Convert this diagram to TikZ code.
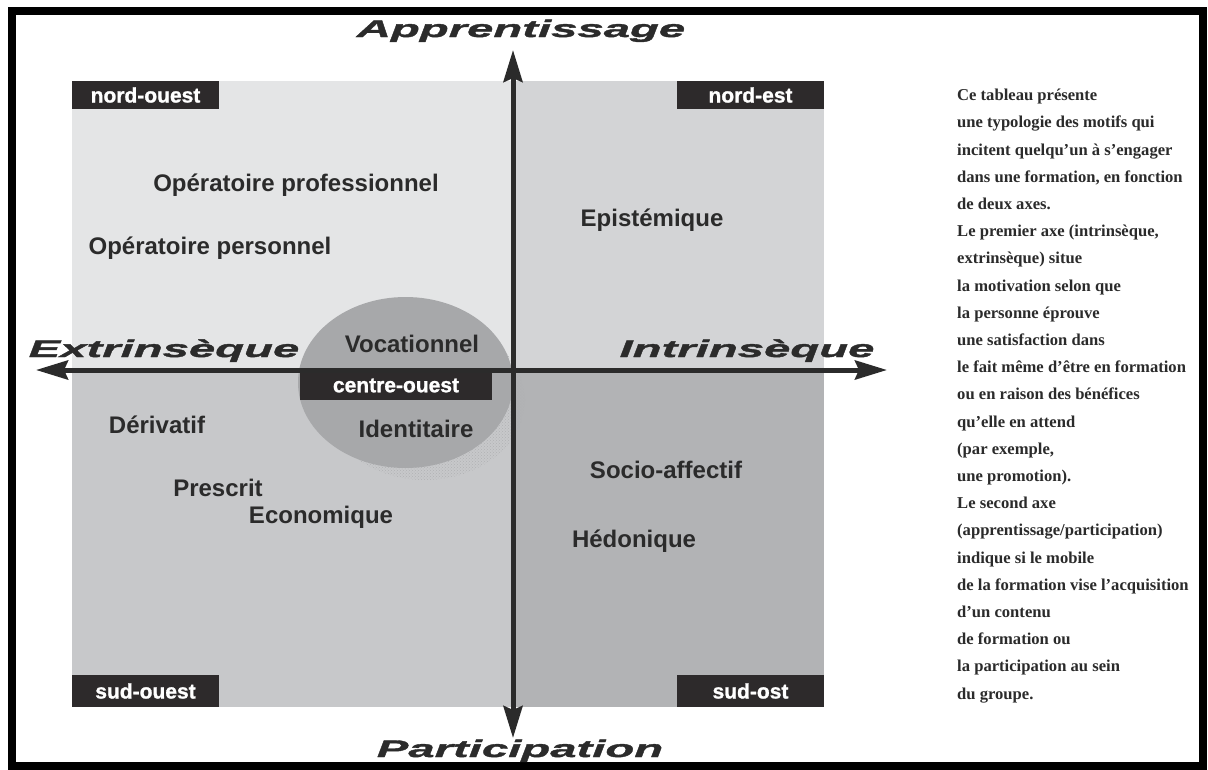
\documentclass[tikz,border=0pt]{standalone}
\usepackage{fontspec}
\setmainfont{Liberation Serif}
\newfontfamily\labelfont{Liberation Sans}
\newfontfamily\tagfont{Liberation Sans}[BoldFeatures={FakeBold=1.2}]
\newfontfamily\axisfont{Liberation Sans}[FakeStretch=1.97, BoldItalicFeatures={FakeBold=1.6}]
\usetikzlibrary{arrows.meta,shapes.geometric,patterns}

\definecolor{ink}{HTML}{2B2B2B}
\definecolor{boxdark}{HTML}{2D2A2B}
\definecolor{panelNW}{HTML}{E4E5E6}
\definecolor{panelNE}{HTML}{D3D4D6}
\definecolor{panelSW}{HTML}{C7C8CA}
\definecolor{panelSE}{HTML}{B2B3B5}
\definecolor{coregray}{HTML}{A7A8AA}
\definecolor{speckle}{HTML}{B0B1B3}

\begin{document}
\begin{tikzpicture}[x=1pt,y=-1pt,
  panel/.style={inner sep=0, outer sep=0, anchor=north west},
  cornerbox/.style={fill=boxdark, text=white, inner sep=0, outer sep=0,
    minimum width=147pt, minimum height=28pt, anchor=north west,
    font={\tagfont\bfseries\fontsize{21}{24}\selectfont}},
  motif/.style={text=ink, inner sep=0, anchor=base,
    font={\labelfont\bfseries\fontsize{24}{28}\selectfont}},
  axislabel/.style={text=ink, inner sep=0, anchor=base,
    font={\axisfont\bfseries\itshape\fontsize{24}{28}\selectfont}},
  axisline/.style={line width=5pt, draw=ink,
    {Stealth[length=32pt,width=19pt,inset=4pt]}-{Stealth[length=32pt,width=19pt,inset=4pt]}},
  note/.style={text=ink, inner sep=0, align=left, anchor=north west,
    font={\bfseries\fontsize{16.6}{27.2}\selectfont}}]

% canvas and frame
\useasboundingbox (0,0) rectangle (1208,769);
\fill[white] (0,0) rectangle (1208,769);
\draw[line width=8pt, black] (11.5,11) rectangle (1202.5,766);

% four quadrants
\node[panel, fill=panelNW, minimum width=441pt, minimum height=290pt] (nw) at (72,81) {};
\node[panel, fill=panelNE, minimum width=311pt, minimum height=290pt] (ne) at (513,81) {};
\node[panel, fill=panelSW, minimum width=441pt, minimum height=336pt] (sw) at (72,371) {};
\node[panel, fill=panelSE, minimum width=311pt, minimum height=336pt] (se) at (513,371) {};

% central-west zone with its halftone shadow
\node[ellipse, pattern=crosshatch dots, pattern color=speckle, inner sep=0,
  minimum width=200pt, minimum height=160pt] (shadow) at (425,400) {};
\node[ellipse, fill=coregray, inner sep=0, minimum width=215pt, minimum height=171pt] (core) at (405.5,382.5) {};
\node[cornerbox, minimum width=192pt, minimum height=29pt] (co) at (300,371) {centre-ouest};

% corner tags
\node[cornerbox] (tagnw) at (72,81) {nord-ouest};
\node[cornerbox] (tagne) at (677,81) {nord-est};
\node[cornerbox, minimum height=32pt] (tagsw) at (72,675) {sud-ouest};
\node[cornerbox, minimum height=32pt] (tagse) at (677,675) {sud-ost};

% axes
\coordinate (top) at (513,50);
\coordinate (bottom) at (513,738);
\coordinate (left) at (36,370);
\coordinate (right) at (887,370);
\draw[axisline] (left) -- (right);
\draw[axisline] (bottom) -- (top);

% axis names
\node[axislabel] (app) at (521,37) {Apprentissage};
\node[axislabel] (par) at (520,757) {Participation};
\node[axislabel] (ext) at (164,357) {Extrinsèque};
\node[axislabel] (int) at (747,357) {Intrinsèque};

% motives
\node[motif] (m1) at (296,191) {Opératoire professionnel};
\node[motif] (m2) at (210,254) {Opératoire personnel};
\node[motif] (m3) at (652,226) {Epistémique};
\node[motif] (m4) at (412,352) {Vocationnel};
\node[motif] (m5) at (416,437) {Identitaire};
\node[motif] (m6) at (157,433) {Dérivatif};
\node[motif] (m7) at (218,496) {Prescrit};
\node[motif] (m8) at (321,523) {Economique};
\node[motif] (m9) at (666,478) {Socio-affectif};
\node[motif] (m10) at (634,547) {Hédonique};

% explanatory column
\node[note] (txt) at (957,89) {Ce tableau présente\\
une typologie des motifs qui\\
incitent quelqu’un à s’engager\\
dans une formation, en fonction\\
de deux axes.\\
Le premier axe (intrinsèque,\\
extrinsèque) situe\\
la motivation selon que\\
la personne éprouve\\
une satisfaction dans\\
le fait même d’être en formation\\
ou en raison des bénéfices\\
qu’elle en attend\\
(par exemple,\\
une promotion).\\
Le second axe\\
(apprentissage/participation)\\
indique si le mobile\\
de la formation vise l’acquisition\\
d’un contenu\\
de formation ou\\
la participation au sein\\
du groupe.};
\end{tikzpicture}
\end{document}
